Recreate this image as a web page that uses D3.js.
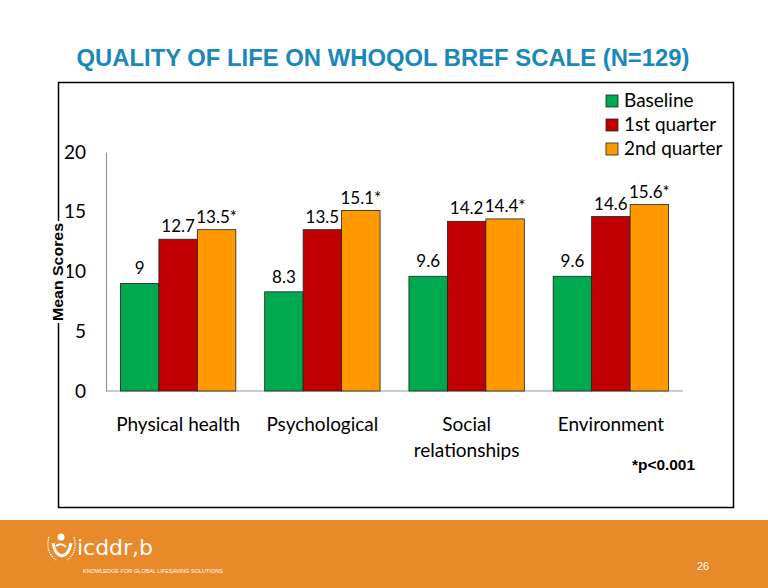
<!DOCTYPE html>
<html><head><meta charset="utf-8">
<script src="https://cdn.jsdelivr.net/npm/d3@7"></script>
<style>body{margin:0;background:#fff;} svg{display:block;}</style>
</head><body>
<svg id="c" width="768" height="588"></svg>
<script>
const categories = ["Physical health", "Psychological", "Social relationships", "Environment"];
const seriesNames = ["Baseline", "1st quarter", "2nd quarter"];
const baseline = [9, 8.3, 9.6, 9.6];
const quarter1 = [12.7, 13.5, 14.2, 14.6];
const quarter2 = [13.5, 15.1, 14.4, 15.6];
const labelsBaseline = ["9", "8.3", "9.6", "9.6"];
const labelsQ1 = ["12.7", "13.5", "14.2", "14.6"];
const labelsQ2 = ["13.5*", "15.1*", "14.4*", "15.6*"];
const yTicks = [0, 5, 10, 15, 20];
const colors = ["#00A84F", "#C00000", "#FF9900"];

const svg = d3.select("#c");
const font = "Lato, 'Open Sans', sans-serif";

// title
svg.append("text").attr("x", 383).attr("y", 66).attr("text-anchor", "middle")
  .attr("font-family", "Arial, 'Liberation Sans', sans-serif").attr("font-weight", "bold")
  .attr("font-size", 23).attr("fill", "#1A88B8")
  .attr("textLength", 613).attr("lengthAdjust", "spacingAndGlyphs")
  .text("QUALITY OF LIFE ON WHOQOL BREF SCALE (N=129)");

// frame
svg.append("rect").attr("x", 58.5).attr("y", 82.5).attr("width", 675).attr("height", 425)
  .attr("fill", "none").attr("stroke", "#000").attr("stroke-width", 1.5);

const x0 = d3.scaleBand().domain(categories).range([106, 683]).paddingInner(0.2).paddingOuter(0.1);
const x1 = d3.scaleBand().domain(seriesNames).range([0, x0.bandwidth()]);
const y = d3.scaleLinear().domain([0, 20]).range([391, 152]);

// axis
const yAxis = svg.append("g").attr("transform", "translate(106,0)")
  .call(d3.axisLeft(y).tickValues(yTicks).tickSize(0).tickPadding(20));
yAxis.select(".domain").attr("stroke", "#999").attr("stroke-width", 1.2);
yAxis.selectAll("text").attr("font-family", font).attr("font-size", 19).attr("fill", "#000");

svg.append("line").attr("x1", 106).attr("x2", 683).attr("y1", y(0)).attr("y2", y(0))
  .attr("stroke", "#999").attr("stroke-width", 1.2);

// y title
const yt = svg.append("g").attr("transform", "translate(58,272) rotate(-90)");
yt.append("rect").attr("x", -51).attr("y", -9).attr("width", 102).attr("height", 18).attr("fill", "#fff");
yt.append("text").attr("text-anchor", "middle").attr("dy", "0.36em")
  .attr("font-family", "Arial, 'Liberation Sans', sans-serif").attr("font-weight", "bold")
  .attr("font-size", 15).attr("fill", "#000")
  .attr("textLength", 98).attr("lengthAdjust", "spacingAndGlyphs").text("Mean Scores");

const allSeries = [baseline, quarter1, quarter2];
const allLabels = [labelsBaseline, labelsQ1, labelsQ2];
const data = [];
categories.forEach((c, i) => seriesNames.forEach((s, j) => data.push({c, s, j, v: allSeries[j][i], l: allLabels[j][i]})));

svg.append("g").selectAll("rect").data(data).join("rect")
  .attr("x", d => x0(d.c) + x1(d.s)).attr("y", d => y(d.v))
  .attr("width", x1.bandwidth()).attr("height", d => y(0) - y(d.v))
  .attr("fill", d => colors[d.j]).attr("stroke", "#222").attr("stroke-width", 0.8);

svg.append("g").selectAll("text").data(data).join("text")
  .attr("x", d => x0(d.c) + x1(d.s) + x1.bandwidth() / 2)
  .attr("y", d => y(d.v) - (d.j === 0 ? 9 : 7))
  .attr("text-anchor", "middle").attr("font-family", font).attr("font-size", 17).attr("fill", "#000")
  .text(d => d.l);

// category labels
categories.forEach(c => {
  const words = c === "Social relationships" ? ["Social", "relationships"] : [c];
  const t = svg.append("text").attr("x", x0(c) + x0.bandwidth() / 2).attr("y", 431)
    .attr("text-anchor", "middle").attr("font-family", font).attr("font-size", 19).attr("fill", "#000");
  words.forEach((w, k) => t.append("tspan").attr("x", x0(c) + x0.bandwidth() / 2).attr("dy", k ? 26 : 0).text(w));
});

// legend
const lg = svg.append("g");
seriesNames.forEach((s, j) => {
  lg.append("rect").attr("x", 606).attr("y", 95 + j * 24).attr("width", 12).attr("height", 12)
    .attr("fill", colors[j]).attr("stroke", "#222").attr("stroke-width", 0.8);
  lg.append("text").attr("x", 624).attr("y", 107 + j * 24).attr("font-family", font)
    .attr("font-size", 19).attr("fill", "#000").text(s);
});

// footnote
svg.append("text").attr("x", 632).attr("y", 470).attr("font-family", "Arial, 'Liberation Sans', sans-serif")
  .attr("font-weight", "bold").attr("font-size", 14).attr("fill", "#000")
  .attr("textLength", 63).attr("lengthAdjust", "spacingAndGlyphs").text("*p<0.001");

// banner
svg.append("rect").attr("x", 0).attr("y", 520).attr("width", 768).attr("height", 68).attr("fill", "#E8892A");
const logo = svg.append("g").attr("fill", "none").attr("stroke", "#fff");
logo.append("circle").attr("cx", 61).attr("cy", 537).attr("r", 3.5).attr("fill", "#fff").attr("stroke", "none");
logo.append("path").attr("d", "M53,543 Q55,555 62,556 Q69,555 71,543").attr("stroke-width", 3);
logo.append("path").attr("d", "M56,546 Q61,542 66,547").attr("stroke-width", 2);
logo.append("path").attr("d", "M49,537 Q45,552 56,560").attr("stroke-width", 1.3).attr("stroke-dasharray", "1.5,1");
logo.append("path").attr("d", "M74,537 Q78,552 67,560").attr("stroke-width", 1.3).attr("stroke-dasharray", "1.5,1");
svg.append("text").attr("x", 77).attr("y", 555).attr("font-family", "'DejaVu Sans Condensed', 'Liberation Sans Narrow', sans-serif")
  .attr("font-size", 22).attr("fill", "#fff").attr("textLength", 76).attr("lengthAdjust", "spacingAndGlyphs").text("icddr,b");
svg.append("text").attr("x", 83).attr("y", 573).attr("font-family", "'Liberation Sans Narrow', sans-serif")
  .attr("font-size", 5.5).attr("fill", "#fff").attr("textLength", 140).attr("lengthAdjust", "spacingAndGlyphs")
  .text("KNOWLEDGE FOR GLOBAL LIFESAVING SOLUTIONS");
svg.append("text").attr("x", 703).attr("y", 570).attr("text-anchor", "middle").attr("font-family", "Arial, sans-serif")
  .attr("font-size", 11).attr("fill", "#fff").text("26");
</script>
</body></html>
